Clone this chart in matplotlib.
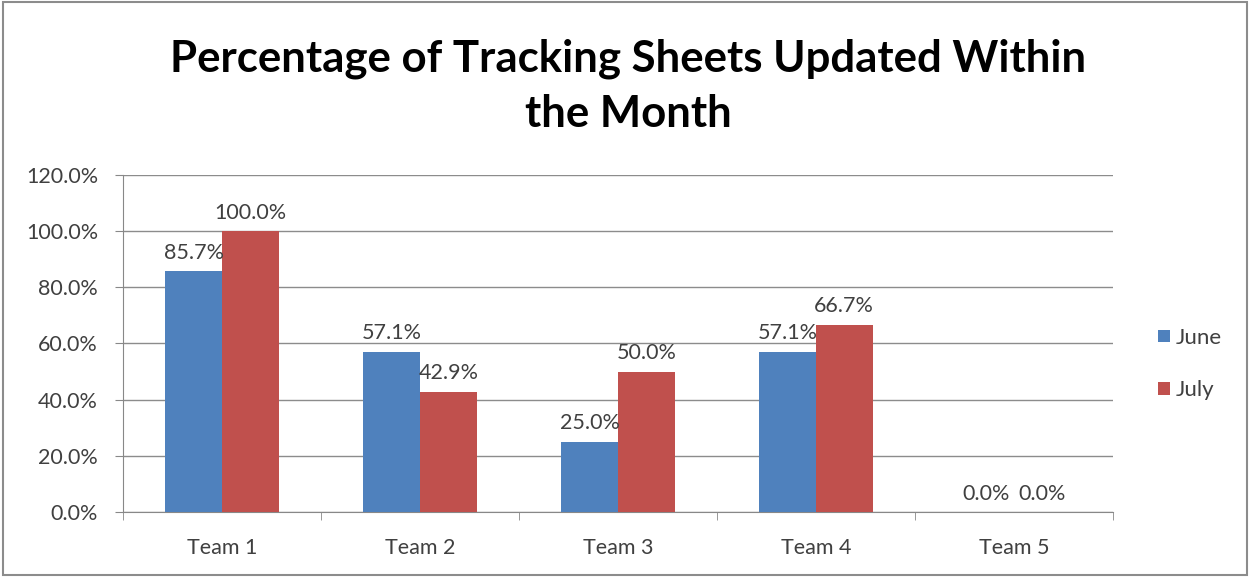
import matplotlib
matplotlib.use("Agg")
import matplotlib.pyplot as plt
from matplotlib.ticker import FuncFormatter, FixedLocator
from matplotlib.patches import Rectangle
import numpy as np

categories = ["Team 1", "Team 2", "Team 3", "Team 4", "Team 5"]
june = [85.7, 57.1, 25.0, 57.1, 0.0]
july = [100.0, 42.9, 50.0, 66.7, 0.0]
series_names = ["June", "July"]
colors = ["#4F81BD", "#C0504D"]

plt.rcParams['font.family'] = ['Lato', 'DejaVu Sans']
fig = plt.figure(figsize=(12.51, 5.77), dpi=100)
ax = fig.add_axes([0.0983, 0.1127, 0.7914, 0.584])

fs = 15.5
x = np.arange(len(categories))
w = 1 / 3.5
bars = []
for i, (vals, name, c) in enumerate(zip([june, july], series_names, colors)):
    b = ax.bar(x + (i - 0.5) * w, vals, width=w, color=c, label=name, zorder=3)
    bars.append(b)
    for xi, v in zip(x + (i - 0.5) * w, vals):
        ax.annotate(f"{v:.1f}%", (xi, v), xytext=(0, 6), textcoords="offset points",
                    ha="center", va="bottom", fontsize=fs, color="#404040", zorder=4)

ax.set_xlim(-0.5, 4.5)
ax.set_ylim(0, 120)
ax.yaxis.set_major_locator(FixedLocator(np.arange(0, 121, 20)))
ax.yaxis.set_major_formatter(FuncFormatter(lambda v, p: f"{v:.1f}%"))
ax.set_xticks(x)
ax.set_xticklabels(categories)
ax.xaxis.set_minor_locator(FixedLocator(np.arange(-0.5, 4.6, 1)))
ax.tick_params(axis="x", which="major", length=0, pad=19, labelsize=fs, labelcolor="#404040")
ax.tick_params(axis="x", which="minor", length=6, color="#888888", direction="out")
ax.tick_params(axis="y", length=6, color="#888888", direction="out", labelsize=fs, labelcolor="#404040", pad=12)
ax.grid(axis="y", color="#8C8C8C", linewidth=1, zorder=0)
for s in ["top", "right"]:
    ax.spines[s].set_visible(False)
for s in ["left", "bottom"]:
    ax.spines[s].set_color("#888888")

fig.text(0.502, 0.85, "Percentage of Tracking Sheets Updated Within\nthe Month",
         ha="center", va="center", fontsize=31.5, fontweight="bold", color="black",
         linespacing=1.45)

leg = fig.legend(handles=bars, labels=series_names, loc="center left",
                 bbox_to_anchor=(0.91, 0.369), frameon=False, fontsize=16,
                 handlelength=0.5, handleheight=0.5, labelspacing=1.45, handletextpad=0.3)
for t in leg.get_texts():
    t.set_color("#404040")

fig.patches.append(Rectangle((0.002, 0.004), 0.995, 0.992, transform=fig.transFigure,
                             fill=False, edgecolor="#8C8C8C", linewidth=1.5))
fig.savefig("out.png", dpi=100)
